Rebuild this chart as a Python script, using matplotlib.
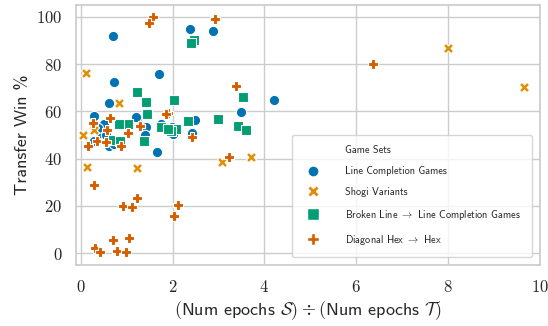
import numpy as np
import matplotlib
matplotlib.use("Agg")
import matplotlib.pyplot as plt
from matplotlib.lines import Line2D
import seaborn as sns

# epoch ratio (x) and transfer win % (y)
line_x = [0.70, 0.72, 0.61, 1.70, 2.39, 2.87, 4.22, 3.50, 1.67, 2.48, 1.22, 1.43,
          1.41, 1.74, 2.02, 2.43, 0.29, 0.50, 0.43, 0.28, 0.61, 0.72, 1.20, 0.55,
          0.38, 1.98]
line_y = [92.0, 72.6, 63.4, 75.6, 95.0, 94.0, 64.6, 59.6, 43.0, 56.2, 57.0, 53.3,
          50.0, 54.5, 50.3, 51.0, 58.2, 54.5, 51.0, 47.4, 45.3, 46.0, 57.5, 50.0,
          53.0, 53.5]

shogi_x = [0.11, 0.83, 0.04, 0.28, 0.13, 1.22, 3.07, 3.70, 8.00, 9.65]
shogi_y = [76.0, 63.4, 50.0, 52.0, 36.4, 36.0, 38.5, 40.6, 86.9, 70.1]

broken_x = [2.46, 2.41, 1.22, 1.43, 2.04, 1.45, 3.54, 2.34, 3.00, 3.43, 3.59,
            1.74, 2.07, 1.96, 1.37, 1.02, 0.83, 0.70, 0.85, 1.91]
broken_y = [90.0, 89.0, 68.0, 64.0, 64.7, 58.8, 66.2, 55.9, 56.6, 53.7, 52.0,
            53.3, 52.4, 51.6, 47.4, 54.5, 54.5, 48.0, 47.4, 52.4]

hex_x = [1.57, 1.48, 2.93, 6.37, 3.39, 1.89, 2.43, 1.28, 0.63, 0.26, 0.58, 1.02,
         0.36, 0.15, 0.87, 0.54, 3.22, 0.28, 1.22, 0.93, 1.11, 2.11, 2.04, 0.70,
         1.04, 0.30, 0.41, 0.80, 0.98, 1.30, 1.85]
hex_y = [100.0, 97.5, 99.0, 80.2, 70.5, 59.2, 49.0, 53.7, 57.0, 55.0, 52.0, 51.0,
         47.4, 45.3, 45.3, 47.0, 40.6, 28.8, 23.4, 20.0, 19.6, 20.4, 15.8, 5.7,
         6.5, 2.3, 0.6, 1.0, 0.6, 54.0, 59.0]

series = [
    ("Line Completion Games", line_x, line_y, "o"),
    ("Shogi Variants", shogi_x, shogi_y, "X"),
    (r"Broken Line $\rightarrow$ Line Completion Games", broken_x, broken_y, "s"),
    (r"Diagonal Hex $\rightarrow$ Hex", hex_x, hex_y, "P"),
]

sns.set_theme(style="whitegrid", palette="colorblind")
plt.rcParams["font.family"] = ["cmss10", "DejaVu Sans"]
plt.rcParams["mathtext.fontset"] = "cm"
plt.rcParams["axes.formatter.use_mathtext"] = True
plt.rcParams["axes.unicode_minus"] = False

colors = sns.color_palette("colorblind")

fig = plt.figure(figsize=(5.48, 3.26), dpi=100)
ax = fig.add_axes([0.139, 0.187, 0.846, 0.798])

handles = [Line2D([], [], linestyle="none", marker="none")]
labels = ["Game Sets"]
for i, (name, xs, ys, mk) in enumerate(series):
    ax.scatter(xs, ys, s=55, marker=mk, color=colors[i], edgecolor="white",
               linewidth=0.8, zorder=3)
    handles.append(Line2D([], [], linestyle="none", marker=mk, color=colors[i],
                          markeredgecolor="white", markersize=8))
    labels.append(name)

ax.set_xlim(-0.1, 10)
ax.set_ylim(-5, 105)
ax.set_xticks([0, 2, 4, 6, 8, 10])
ax.set_yticks([0, 20, 40, 60, 80, 100])
ax.set_xticklabels([f"${v}$" for v in [0, 2, 4, 6, 8, 10]], fontsize=12)
ax.set_yticklabels([f"${v}$" for v in [0, 20, 40, 60, 80, 100]], fontsize=12)
ax.tick_params(pad=4)
ax.set_xlabel(r"$($Num epochs $\mathcal{S})\div($Num epochs $\mathcal{T})$",
              fontsize=13, labelpad=3)
ax.set_ylabel("Transfer Win %", fontsize=13, labelpad=4)

ax.legend(handles, labels, loc="lower right", fontsize=7.4, labelspacing=1.05,
          handlelength=2.0, handletextpad=2.2, borderpad=1.0, frameon=True,
          borderaxespad=0.8)

fig.savefig("out.png", dpi=100)
